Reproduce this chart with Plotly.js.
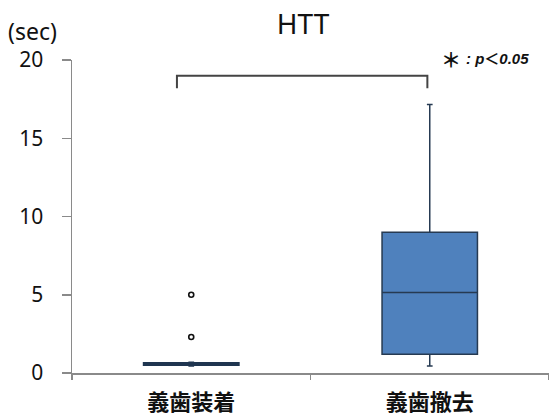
<!DOCTYPE html>
<html><head><meta charset="utf-8">
<script src="https://cdn.plot.ly/plotly-3.0.1.min.js"></script>
<style>html,body{margin:0;padding:0;background:#fff}#c{width:549px;height:417px}</style>
</head><body><div id="c"></div>
<script>
const categories = ['義歯装着', '義歯撤去'];
const lowerWhisker = [0.45, 0.45];
const q1 = [0.5, 1.2];
const median = [0.58, 5.15];
const q3 = [0.65, 9.0];
const upperWhisker = [0.68, 17.15];
const outlierCat = ['義歯装着', '義歯装着'];
const outlierVals = [5.0, 2.3];
const yTicks = [0, 5, 10, 15, 20];
const bracketX = [-0.06, 0.99];
const bracketY = [18.2, 19.0];

const boxFills = ['#243f60', '#4f81bd'];
const boxLines = ['#1f3550', '#263a52'];

const traces = categories.map((c, i) => ({
  type: 'box',
  x: [c],
  q1: [q1[i]], median: [median[i]], q3: [q3[i]],
  lowerfence: [lowerWhisker[i]], upperfence: [upperWhisker[i]],
  fillcolor: boxFills[i],
  line: {color: boxLines[i], width: 1.5},
  width: 0.4,
  whiskerwidth: 0.06,
  boxpoints: false,
  hoverinfo: 'skip',
  showlegend: false
}));
traces.push({
  type: 'scatter', mode: 'markers', x: outlierCat, y: outlierVals,
  marker: {symbol: 'circle', size: 5, color: '#fff', line: {color: '#111', width: 1.6}},
  showlegend: false, hoverinfo: 'skip'
});

const layout = {
  width: 549, height: 417,
  margin: {l: 72, r: 0, t: 60, b: 44},
  paper_bgcolor: '#fff', plot_bgcolor: '#fff',
  showlegend: false,
  title: {text: 'HTT', x: 0.552, xanchor: 'center', y: 0.942, yanchor: 'middle',
          font: {family: 'Noto Sans, sans-serif', size: 28, color: '#111'}},
  xaxis: {
    type: 'category', categoryorder: 'array', categoryarray: categories,
    range: [-0.5, 1.5],
    showline: true, linecolor: '#8a8a8a', linewidth: 1.5,
    ticks: 'outside', tickson: 'boundaries', ticklen: 5, tickcolor: '#8a8a8a', tickwidth: 1.5,
    ticklabelstandoff: 9,
    showgrid: false, zeroline: false,
    tickfont: {family: 'Noto Sans CJK JP, sans-serif', size: 22, color: '#111', weight: 600}
  },
  yaxis: {
    range: [0, 20], tickvals: yTicks,
    showline: true, linecolor: '#8a8a8a', linewidth: 1.5,
    ticks: 'outside', ticklen: 9, tickcolor: '#8a8a8a', tickwidth: 1.5,
    ticklabelstandoff: 14,
    showgrid: false, zeroline: false,
    tickfont: {family: 'Noto Sans, sans-serif', size: 21, color: '#111'}
  },
  shapes: [{
    type: 'path', xref: 'x', yref: 'y',
    path: `M ${bracketX[0]},${bracketY[0]} L ${bracketX[0]},${bracketY[1]} L ${bracketX[1]},${bracketY[1]} L ${bracketX[1]},${bracketY[0]}`,
    line: {color: '#444', width: 2}
  }],
  annotations: [
    {text: '(sec)', xref: 'paper', yref: 'paper', x: -0.138, y: 1.0, yshift: 29, xanchor: 'left', yanchor: 'middle',
     showarrow: false, font: {family: 'Noto Sans, sans-serif', size: 23, color: '#111'}},
    {text: '<b>＊</b>', xref: 'paper', yref: 'paper', x: 0.795, y: 1.0, yshift: 1, xanchor: 'center', yanchor: 'middle',
     showarrow: false, font: {family: 'Noto Sans CJK JP, sans-serif', size: 20, color: '#111'}},
    {text: '<b><i>: p</i></b><b>＜</b><b><i>0.05</i></b>', xref: 'paper', yref: 'paper', x: 0.822, y: 1.0, yshift: 2, xanchor: 'left', yanchor: 'middle',
     showarrow: false, font: {family: 'Liberation Sans, Noto Sans CJK JP, sans-serif', size: 15, color: '#111'}}
  ]
};
Plotly.newPlot('c', traces, layout, {displayModeBar: false, staticPlot: true});
</script></body></html>
